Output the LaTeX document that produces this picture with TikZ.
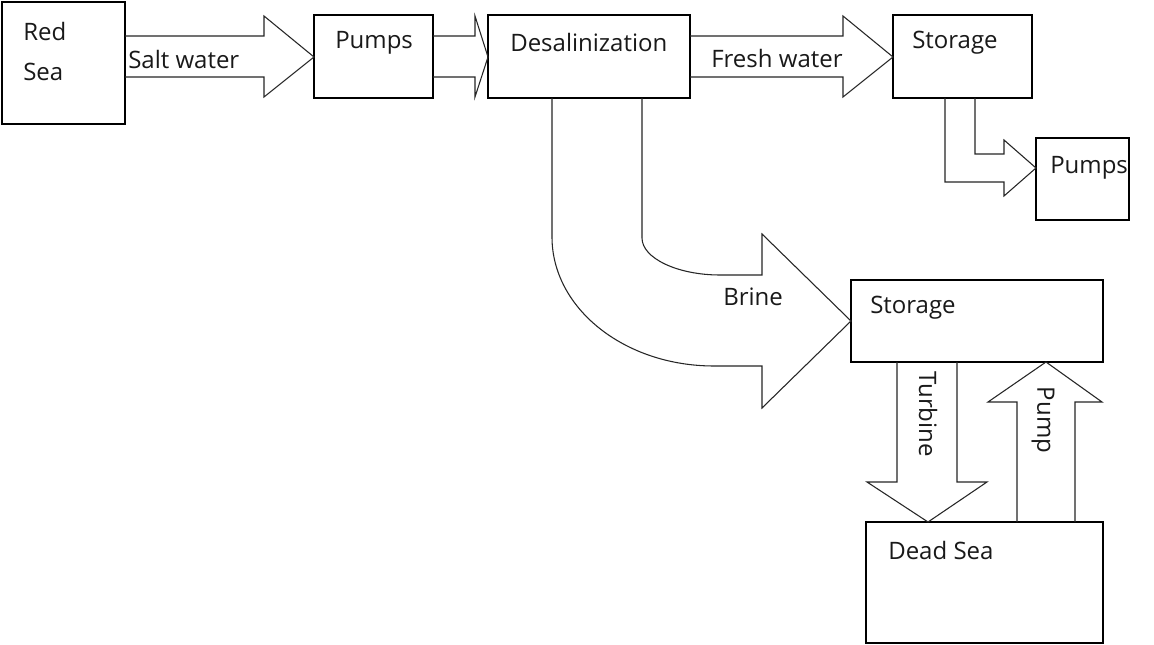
\documentclass[tikz,border=0pt]{standalone}
\usepackage{fontspec}
\setmainfont{Open Sans}
\begin{document}
\begin{tikzpicture}[x=0.75pt,y=-0.75pt,
  box/.style={draw=black,line width=0.9pt,inner sep=0pt,outer sep=0pt,anchor=north west},
  blk/.style={draw=black!85,line width=0.8pt,line join=miter},
  lbl/.style={inner sep=0pt,anchor=west,font=\fontsize{18}{21}\selectfont,text=black!90}]
\useasboundingbox[fill=white] (0,0) rectangle (1154,645);
% boxes
\node[box,minimum width=92.25pt,minimum height=91.5pt] (redsea) at (2,2) {};
\node[box,minimum width=89.25pt,minimum height=62.25pt] (pumpsa) at (314,15) {};
\node[box,minimum width=151.5pt,minimum height=62.25pt] (desal) at (488,15) {};
\node[box,minimum width=104.25pt,minimum height=62.25pt] (stora) at (893,15) {};
\node[box,minimum width=69.75pt,minimum height=61.5pt] (pumpsb) at (1036,138) {};
\node[box,minimum width=189pt,minimum height=61.5pt] (storb) at (851,280) {};
\node[box,minimum width=177.75pt,minimum height=90.75pt] (dead) at (866,522) {};
% block arrows
\draw[blk] (redsea.east |- 0,36) -- (264,36) -- (264,16) -- (pumpsa.west |- 0,57)
  -- (264,97) -- (264,77) -- (redsea.east |- 0,77);
\draw[blk] (pumpsa.east |- 0,36) -- (475,36) -- (475,16) -- (desal.west |- 0,57)
  -- (475,97) -- (475,77) -- (pumpsa.east |- 0,77);
\draw[blk] (desal.east |- 0,36) -- (843,36) -- (843,16) -- (stora.west |- 0,57)
  -- (843,97) -- (843,77) -- (desal.east |- 0,77);
\draw[blk] (945,0 |- stora.south) -- (945,182) -- (1004,182) -- (1004,196)
  -- (pumpsb.west |- 0,168) -- (1004,140) -- (1004,154) -- (975,154) -- (975,0 |- stora.south);
\draw[blk] (552,0 |- desal.south) -- (552,237) .. controls (552,308) and (624,366) .. (714,366)
  -- (762,366) -- (762,408) -- (storb.west |- 0,321) -- (762,234) -- (762,275) -- (720,275)
  .. controls (677,275) and (642,258) .. (642,238) -- (642,0 |- desal.south);
\draw[blk] (897,0 |- storb.south) -- (897,482) -- (867,482) -- (928,0 |- dead.north)
  -- (987,482) -- (957,482) -- (957,0 |- storb.south);
\draw[blk] (1017,0 |- dead.north) -- (1017,402) -- (988,402) -- (1046,0 |- storb.south)
  -- (1102,402) -- (1075,402) -- (1075,0 |- dead.north);
% labels
\node[lbl] (t1) at (23,32) {Red};
\node[lbl] (t2) at (23,72) {Sea};
\node[lbl] (t3) at (128,60) {Salt water};
\node[lbl] (t4) at (335,43) {Pumps};
\node[lbl] (t5) at (510,43) {Desalinization};
\node[lbl] (t6) at (711,59) {Fresh water};
\node[lbl] (t7) at (912,43) {Storage};
\node[lbl] (t8) at (1050,168) {Pumps};
\node[lbl] (t9) at (723,297) {Brine};
\node[lbl] (t10) at (870,308) {Storage};
\node[lbl] (t11) at (888,550) {Dead Sea};
\node[lbl,anchor=center,rotate=-90] (t12) at (928,414) {Turbine};
\node[lbl,anchor=center,rotate=-90] (t13) at (1043,420) {Pump};
\end{tikzpicture}
\end{document}
